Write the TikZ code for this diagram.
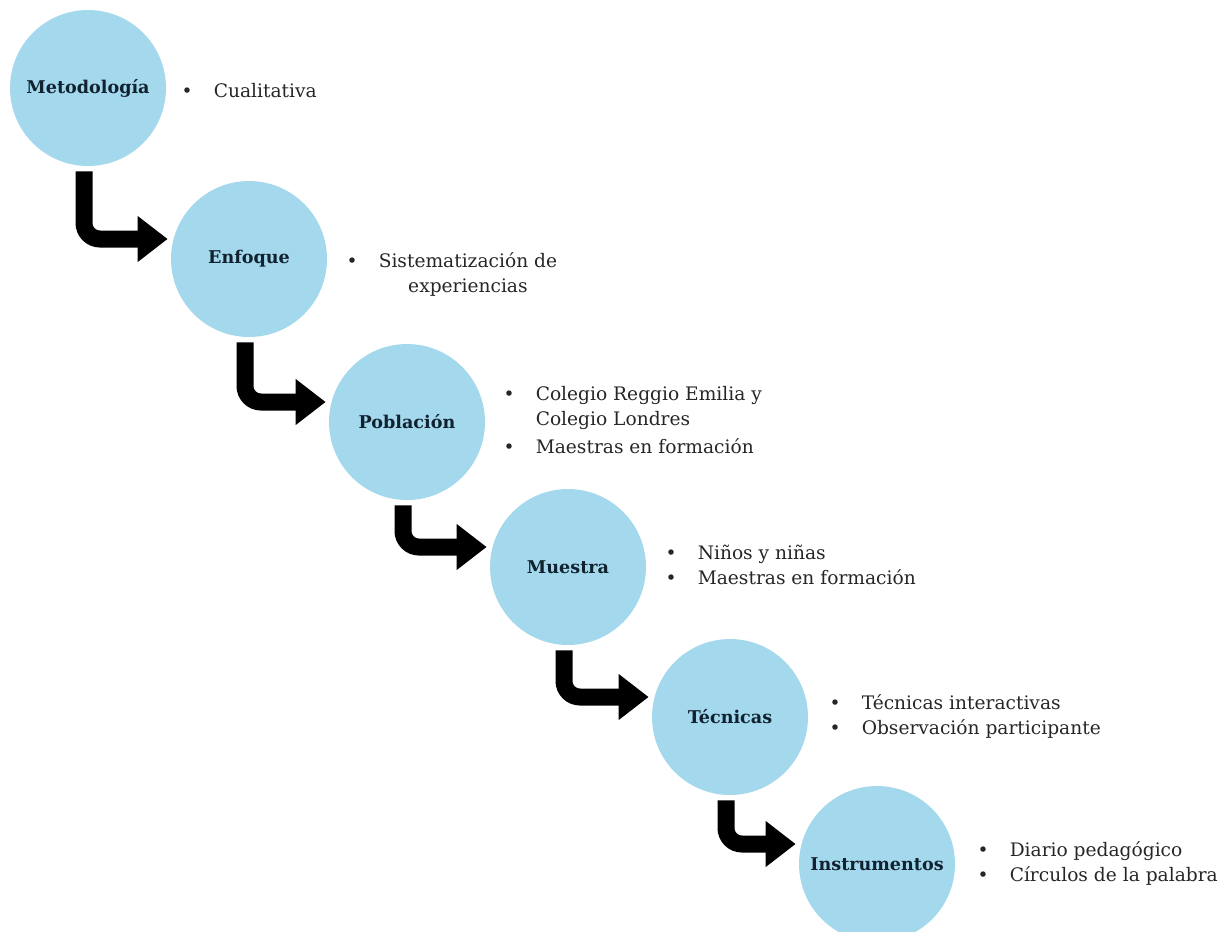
\documentclass[tikz,border=0pt]{standalone}
\usepackage{fontspec}
\setmainfont{DejaVu Serif}
\usetikzlibrary{positioning}
\usetikzlibrary{arrows.meta}
\usetikzlibrary{calc}
\definecolor{circulo}{RGB}{164,216,236}
\definecolor{circuloclaro}{RGB}{192,232,245}
\definecolor{titulo}{RGB}{16,34,48}
\definecolor{texto}{RGB}{38,38,38}
\tikzstyle{etapa}=[circle,minimum size=3.12cm,inner sep=0pt,left color=circulo,middle color=circuloclaro,right color=circulo,shading angle=60,text=titulo,font=\bfseries\fontsize{10}{12}\selectfont]
\tikzstyle{flecha} = [draw,line width=0.34cm,rounded corners=0.32cm,-{Triangle[length=0.6cm,width=0.88cm]}]
\tikzstyle{lista} = [inner sep=0pt,text=texto,font=\fontsize{10.6}{14.5}\selectfont]

\begin{document}
\begin{tikzpicture}[x=0.02cm, y=0.02cm]
    \useasboundingbox (0,0) rectangle (1222,-931);
    % Primero los circulos de cada etapa
    \foreach \pos/\name/\etiqueta in {{(88,-88)/met/Metodología}, {(249,-259)/enf/Enfoque},
    {(407,-422)/pob/Población}, {(568,-567)/mue/Muestra},
    {(730,-717)/tec/Técnicas}, {(877,-864)/ins/Instrumentos}}
        \node[etapa] (\name) at \pos {\etiqueta};

    % Flechas de una etapa a la siguiente
    \foreach \source/\dest in {met/enf, enf/pob, pob/mue, mue/tec, tec/ins}
        \draw[flecha] ($(\source.south)+(-4,-5)$) |- ($(\dest.west)+(-3,20)$);

    % Listas a la derecha
    \node[lista, right=15 of met, yshift=-0.08cm] (metl)
        {\begin{tabular}{@{}l@{\hspace{12pt}}l@{}}\textbullet & Cualitativa\end{tabular}};
    \node[lista, right=19 of enf, yshift=-0.32cm] (enfl)
        {\begin{tabular}{@{}l@{\hspace{12pt}}c@{}}\textbullet & Sistematización de\\ & experiencias\end{tabular}};
    \node[lista, right=18 of pob] (pobl)
        {\begin{tabular}{@{}l@{\hspace{12pt}}l@{}}\textbullet & Colegio Reggio Emilia y\\ & Colegio Londres\\[1.5pt] \textbullet & Maestras en formación\end{tabular}};
    \node[lista, right=19 of mue] (muel)
        {\begin{tabular}{@{}l@{\hspace{12pt}}l@{}}\textbullet & Niños y niñas\\ \textbullet & Maestras en formación\end{tabular}};
    \node[lista, right=21 of tec] (tecl)
        {\begin{tabular}{@{}l@{\hspace{12pt}}l@{}}\textbullet & Técnicas interactivas\\ \textbullet & Observación participante\end{tabular}};
    \node[lista, right=22 of ins] (insl)
        {\begin{tabular}{@{}l@{\hspace{12pt}}l@{}}\textbullet & Diario pedagógico\\ \textbullet & Círculos de la palabra\end{tabular}};
\end{tikzpicture}
\end{document}
